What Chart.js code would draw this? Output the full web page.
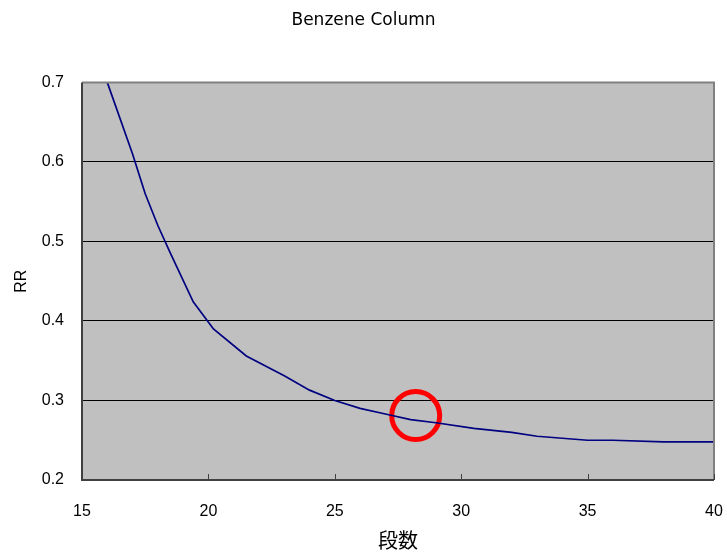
<!DOCTYPE html>
<html>
<head>
<meta charset="utf-8">
<script src="https://cdn.jsdelivr.net/npm/chart.js@4"></script>
<style>
  html, body { margin: 0; padding: 0; background: #ffffff; }
  #wrap { width: 727px; height: 552px; }
</style>
</head>
<body>
<div id="wrap"><canvas id="chart" width="727" height="552"></canvas></div>
<script>
// stages vs reflux ratio
const stages = [16, 17, 17.5, 18, 18.5, 19.4, 20.2, 21.5, 23, 24, 25, 26, 27, 28, 29, 30.5, 32, 33, 35, 36, 38, 40];
const refluxRatio = [0.70, 0.61, 0.56, 0.52, 0.485, 0.424, 0.39, 0.356, 0.331, 0.313, 0.30, 0.29, 0.283, 0.276, 0.272, 0.265, 0.26, 0.255, 0.25, 0.25, 0.248, 0.248];

// hand-drawn red ring
const markX = [28.2];
const markY = [0.281];

const xTicks = [15, 20, 25, 30, 35, 40];
const yTicks = [0.2, 0.3, 0.4, 0.5, 0.6, 0.7];

const FONT = "'Liberation Sans', 'Noto Sans CJK JP', sans-serif";

const plotBackground = {
    id: "plotBackground",
    beforeDraw(chart) {
        const { ctx, chartArea } = chart;
        ctx.save();
        ctx.fillStyle = "#c0c0c0";
        ctx.fillRect(chartArea.left, chartArea.top, chartArea.right - chartArea.left, chartArea.bottom - chartArea.top);
        ctx.restore();
    },
    afterDatasetsDraw(chart) {
        const { ctx, chartArea, scales } = chart;
        ctx.save();
        // frame
        ctx.strokeStyle = "#808080";
        ctx.lineWidth = 2;
        ctx.beginPath();
        ctx.moveTo(chartArea.left, chartArea.top);
        ctx.lineTo(chartArea.right, chartArea.top);
        ctx.lineTo(chartArea.right, chartArea.bottom);
        ctx.stroke();
        ctx.strokeStyle = "#404040";
        ctx.beginPath();
        ctx.moveTo(chartArea.left, chartArea.top);
        ctx.lineTo(chartArea.left, chartArea.bottom);
        ctx.lineTo(chartArea.right, chartArea.bottom);
        ctx.stroke();
        // inward ticks on the x axis
        ctx.lineWidth = 1;
        xTicks.forEach((v) => {
            const px = Math.round(scales.x.getPixelForValue(v)) + 0.5;
            ctx.beginPath();
            ctx.moveTo(px, chartArea.bottom);
            ctx.lineTo(px, chartArea.bottom - 6);
            ctx.stroke();
        });
        ctx.restore();
    }
};

new Chart(document.getElementById("chart"), {
    type: "line",
    data: {
        datasets: [
            {
                data: stages.map((s, i) => ({ x: s, y: refluxRatio[i] })),
                borderColor: "#000080",
                borderWidth: 1.7,
                pointRadius: 0,
                tension: 0,
                fill: false
            },
            {
                type: "scatter",
                data: markX.map((x, i) => ({ x, y: markY[i] })),
                pointStyle: "circle",
                pointRadius: 24,
                borderColor: "#ff0000",
                borderWidth: 5,
                backgroundColor: "rgba(0,0,0,0)"
            }
        ]
    },
    options: {
        responsive: false,
        animation: false,
        layout: { padding: 0, autoPadding: false },
        plugins: {
            legend: { display: false },
            tooltip: { enabled: false },
            title: {
                display: true,
                text: "Benzene Column",
                color: "#000000",
                font: { family: "'DejaVu Sans', sans-serif", size: 17, weight: "normal" },
                padding: { top: 10, bottom: 52 }
            }
        },
        scales: {
            x: {
                type: "linear",
                min: 15,
                max: 40,
                afterBuildTicks(scale) {
                    scale.ticks = xTicks.map((v) => ({ value: v }));
                },
                afterFit(scale) {
                    scale.height = 72;
                    scale.paddingLeft = 0;
                    scale.paddingRight = 13;
                },
                ticks: {
                    color: "#000000",
                    font: { family: FONT, size: 16 },
                    padding: 22,
                    maxRotation: 0
                },
                grid: { display: false, drawTicks: false },
                border: { display: false },
                title: {
                    display: true,
                    text: "段数",
                    color: "#000000",
                    font: { family: "'Noto Sans CJK JP', sans-serif", size: 20 },
                    padding: { top: 0, bottom: 0 }
                }
            },
            y: {
                type: "linear",
                min: 0.2,
                max: 0.7,
                afterBuildTicks(scale) {
                    scale.ticks = yTicks.map((v) => ({ value: v }));
                },
                afterFit(scale) {
                    scale.width = 82;
                },
                ticks: {
                    color: "#000000",
                    font: { family: FONT, size: 16 },
                    padding: 18,
                    callback: (v) => Number(v).toFixed(1)
                },
                grid: { color: "#000000", lineWidth: 1, drawTicks: false },
                border: { display: false },
                title: {
                    display: true,
                    text: "RR",
                    color: "#000000",
                    font: { family: FONT, size: 16 },
                    padding: { top: 12, bottom: 0 }
                }
            }
        }
    },
    plugins: [plotBackground]
});
</script>
</body>
</html>
